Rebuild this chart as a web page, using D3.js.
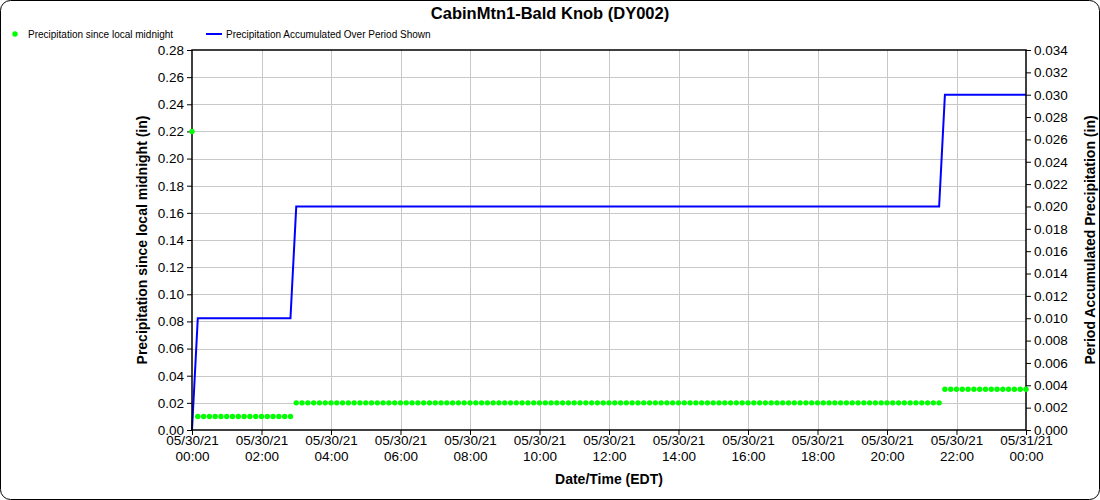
<!DOCTYPE html>
<html>
<head>
<meta charset="utf-8">
<script src="https://cdn.jsdelivr.net/npm/d3@7"></script>
<style>
  body { margin: 0; background: #fff; }
  svg text { font-family: "Liberation Sans", Arial, sans-serif; fill: #000; }
</style>
</head>
<body>
<div id="chart"></div>
<script>
// Chart values, 10 minute samples
var startTime = "2021-05-30T00:00";
var stepMinutes = 10;
// runs of [value, number of samples]
var sinceMidnightRuns = [[0.22, 1], [0.01, 17], [0.02, 112], [0.03, 15]];
var accumulatedRuns = [[0.0, 1], [0.01, 17], [0.02, 112], [0.03, 15]];

var leftTicks = [0, 0.02, 0.04, 0.06, 0.08, 0.10, 0.12, 0.14, 0.16, 0.18, 0.20, 0.22, 0.24, 0.26, 0.28];
var rightTicks = [0, 0.002, 0.004, 0.006, 0.008, 0.010, 0.012, 0.014, 0.016, 0.018, 0.020, 0.022, 0.024, 0.026, 0.028, 0.030, 0.032, 0.034];
var seriesNames = ["Precipitation since local midnight", "Precipitation Accumulated Over Period Shown"];
var title = "CabinMtn1-Bald Knob (DY002)";

// Expand runs into timed samples
function expandRuns(runs) {
    var t0 = d3.timeParse("%Y-%m-%dT%H:%M")(startTime);
    var out = [];
    runs.forEach(function(r) {
        for (var k = 0; k < r[1]; k++) {
            out.push({ time: d3.timeMinute.offset(t0, out.length * stepMinutes), value: r[0] });
        }
    });
    return out;
}
var sinceMidnight = expandRuns(sinceMidnightRuns);
var accumulated = expandRuns(accumulatedRuns);

var W = 1100, H = 500;
var margin = { top: 50, right: 74, bottom: 70, left: 192 };
var width = W - margin.left - margin.right,
    height = H - margin.top - margin.bottom;

var svg = d3.select("#chart").append("svg")
    .attr("width", W)
    .attr("height", H);

// outer frame
svg.append("rect")
    .attr("x", 0.5).attr("y", 0.5)
    .attr("width", W - 1).attr("height", H - 1)
    .attr("rx", 10)
    .attr("fill", "#fff")
    .attr("stroke", "#000");

svg.append("text")
    .attr("x", W / 2).attr("y", 19)
    .attr("text-anchor", "middle")
    .style("font-size", "16.5px").style("font-weight", "bold")
    .text(title);

// legend
var legend = svg.append("g").attr("transform", "translate(0,34)");
legend.append("circle").attr("cx", 15).attr("cy", 0).attr("r", 2.7).attr("fill", "#00ff00");
legend.append("text").attr("x", 28).attr("y", 4).style("font-size", "10px").text(seriesNames[0]);
legend.append("line").attr("x1", 206).attr("x2", 222).attr("y1", 0).attr("y2", 0)
    .attr("stroke", "#0000ff").attr("stroke-width", 2);
legend.append("text").attr("x", 226).attr("y", 4).style("font-size", "10px").text(seriesNames[1]);

var g = svg.append("g").attr("transform", "translate(" + margin.left + "," + margin.top + ")");

var x = d3.scaleTime()
    .domain([sinceMidnight[0].time, d3.timeDay.offset(sinceMidnight[0].time, 1)])
    .range([0, width]);
var yL = d3.scaleLinear().domain([0, 0.28]).range([height, 0]);
var yR = d3.scaleLinear().domain([0, 0.034]).range([height, 0]);

var xTicks = x.ticks(d3.timeHour.every(2));

// gridlines
g.append("g").selectAll("line").data(leftTicks.slice(1, -1)).enter().append("line")
    .attr("x1", 0).attr("x2", width)
    .attr("y1", function(d) { return Math.round(yL(d)) + 0.5; })
    .attr("y2", function(d) { return Math.round(yL(d)) + 0.5; })
    .attr("stroke", "#c8c8c8");
g.append("g").selectAll("line").data(xTicks.slice(1, -1)).enter().append("line")
    .attr("y1", 0).attr("y2", height)
    .attr("x1", function(d) { return Math.round(x(d)) + 0.5; })
    .attr("x2", function(d) { return Math.round(x(d)) + 0.5; })
    .attr("stroke", "#c8c8c8");

// accumulated line
g.append("path")
    .datum(accumulated)
    .attr("fill", "none")
    .attr("stroke", "#0000ff")
    .attr("stroke-width", 2)
    .attr("d", d3.line()
        .x(function(d) { return x(d.time); })
        .y(function(d) { return yR(d.value); }));

// frame of plot
g.append("rect")
    .attr("x", 0).attr("y", 0).attr("width", width).attr("height", height)
    .attr("fill", "none").attr("stroke", "#000").attr("stroke-width", 1.5);

// axes
var fmt2 = d3.format(".2f"), fmt3 = d3.format(".3f");
var axL = g.append("g")
    .call(d3.axisLeft(yL).tickValues(leftTicks).tickFormat(fmt2).tickSize(5).tickPadding(3));
var axR = g.append("g").attr("transform", "translate(" + width + ",0)")
    .call(d3.axisRight(yR).tickValues(rightTicks).tickFormat(fmt3).tickSize(5).tickPadding(3));
var axB = g.append("g").attr("transform", "translate(0," + height + ")")
    .call(d3.axisBottom(x).tickValues(xTicks).tickSize(5).tickPadding(3).tickFormat(""));

[axL, axR, axB].forEach(function(a) {
    a.select(".domain").remove();
    a.selectAll("line").attr("stroke", "#000");
    a.selectAll("text").style("font-size", "13.5px").style("font-family", "Liberation Sans, Arial, sans-serif");
});

var dateFmt = d3.timeFormat("%m/%d/%y"), hourFmt = d3.timeFormat("%H:%M");
axB.selectAll(".tick").each(function(d) {
    var t = d3.select(this).append("text")
        .attr("y", 15)
        .attr("text-anchor", "middle")
        .style("font-size", "13.5px");
    t.append("tspan").attr("x", 0).attr("dy", 0).text(dateFmt(d));
    t.append("tspan").attr("x", 0).attr("dy", 16).text(hourFmt(d));
});

// since midnight dots, on top of axes
g.append("g").selectAll("circle").data(sinceMidnight).enter().append("circle")
    .attr("cx", function(d) { return x(d.time); })
    .attr("cy", function(d) { return yL(d.value); })
    .attr("r", 2.7)
    .attr("fill", "#00ff00");

// axis titles
svg.append("text")
    .attr("transform", "translate(147," + (margin.top + height / 2) + ") rotate(-90)")
    .attr("text-anchor", "middle")
    .style("font-size", "14px").style("font-weight", "bold")
    .text("Precipitation since local midnight (in)");
svg.append("text")
    .attr("transform", "translate(1095," + (margin.top + height / 2) + ") rotate(-90)")
    .attr("text-anchor", "middle")
    .style("font-size", "14px").style("font-weight", "bold")
    .text("Period Accumulated Precipitation (in)");
svg.append("text")
    .attr("x", margin.left + width / 2).attr("y", 484)
    .attr("text-anchor", "middle")
    .style("font-size", "14px").style("font-weight", "bold")
    .text("Date/Time (EDT)");
</script>
</body>
</html>
